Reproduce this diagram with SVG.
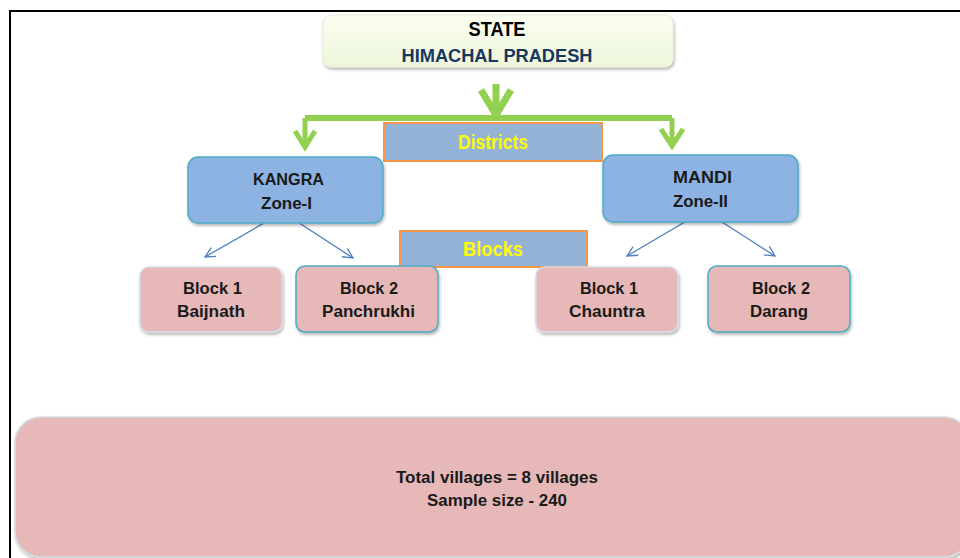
<svg xmlns="http://www.w3.org/2000/svg" width="960" height="558" viewBox="0 0 960 558">
<defs>
<linearGradient id="gState" x1="0" y1="0" x2="0" y2="1">
<stop offset="0" stop-color="#FAFEF0"/><stop offset="1" stop-color="#EEF6DC"/>
</linearGradient>
<filter id="sh" x="-10%" y="-20%" width="120%" height="150%">
<feDropShadow dx="1" dy="2" stdDeviation="1.5" flood-color="#000" flood-opacity="0.3"/>
</filter>
<marker id="ah" markerWidth="14" markerHeight="12" refX="11" refY="6" orient="auto" markerUnits="userSpaceOnUse">
<path d="M1,1 L11,6 L1,11" fill="none" stroke="#4F81BD" stroke-width="1.3"/>
</marker>
<style>
.t{font-family:"Liberation Sans",Arial,sans-serif;font-weight:bold;text-anchor:middle}
.dk{fill:#1a1a1a;font-size:16px}
.zone{fill:#8DB3E2;stroke:#4BACC6;stroke-width:1.5}
.blk{fill:#E6B9B8;stroke:#4BACC6;stroke-width:1.5}
.blk2{fill:#E6B9B8;stroke:#D6DCE4;stroke-width:1.5}
.lbl{fill:#95B3D7;stroke:#F79646;stroke-width:2}
.lt{fill:#FFFF00;font-size:21px}
.g{fill:none;stroke:#92D050;stroke-linecap:butt}
.b{stroke:#4F81BD;stroke-width:1.3;fill:none}
</style>
</defs>
<rect width="960" height="558" fill="#fff"/>
<path d="M10,558 V11 H960" fill="none" stroke="#000" stroke-width="2"/>

<g id="connectors">
<path class="g" d="M496,84 V118" stroke-width="7"/>
<path class="g" d="M481,90 L496,115 L511,90" stroke-width="7" stroke-linejoin="miter"/>
<path class="g" d="M305,118 H672" stroke-width="6"/>
<path class="g" d="M305,118 V147" stroke-width="5"/>
<path class="g" d="M295,131 L305,147 L315,131" stroke-width="5"/>
<path class="g" d="M672,118 V146" stroke-width="5"/>
<path class="g" d="M661,129 L672,146 L683,129" stroke-width="5"/>
<line class="b" x1="278" y1="215" x2="205" y2="257" marker-end="url(#ah)"/>
<line class="b" x1="287" y1="215" x2="353" y2="258" marker-end="url(#ah)"/>
<line class="b" x1="700" y1="213" x2="627" y2="256" marker-end="url(#ah)"/>
<line class="b" x1="708" y1="213" x2="775" y2="256" marker-end="url(#ah)"/>
</g>

<g id="state">
<rect x="323" y="15" width="350" height="52" rx="8" fill="url(#gState)" stroke="#E4ECD4" stroke-width="1" filter="url(#sh)"/>
<text class="t" x="497" y="36" font-size="20" fill="#000" textLength="57" lengthAdjust="spacingAndGlyphs">STATE</text>
<text class="t" x="497" y="62" font-size="19" fill="#17375E" textLength="191" lengthAdjust="spacingAndGlyphs">HIMACHAL PRADESH</text>
</g>

<g id="districts">
<rect class="lbl" x="384" y="123" width="218" height="38"/>
<text class="t lt" x="493" y="149" textLength="70" lengthAdjust="spacingAndGlyphs">Districts</text>
</g>

<g id="kangra">
<rect class="zone" x="188" y="157" width="195" height="66" rx="10" filter="url(#sh)"/>
<text class="t dk" x="288.5" y="185" textLength="71" lengthAdjust="spacingAndGlyphs">KANGRA</text>
<text class="t dk" x="286.5" y="209" textLength="51" lengthAdjust="spacingAndGlyphs">Zone-I</text>
</g>

<g id="mandi">
<rect class="zone" x="603" y="155" width="195" height="67" rx="10" filter="url(#sh)"/>
<text class="t dk" x="702.5" y="183" textLength="59" lengthAdjust="spacingAndGlyphs">MANDI</text>
<text class="t dk" x="700.5" y="207" textLength="55" lengthAdjust="spacingAndGlyphs">Zone-II</text>
</g>

<g id="blocks">
<rect class="lbl" x="400" y="231" width="187" height="36"/>
<text class="t lt" x="493" y="256" textLength="60" lengthAdjust="spacingAndGlyphs">Blocks</text>
</g>

<g id="baijnath">
<rect class="blk2" x="140" y="267" width="142" height="65" rx="9" filter="url(#sh)"/>
<text class="t dk" x="212.5" y="294" textLength="59" lengthAdjust="spacingAndGlyphs">Block 1</text>
<text class="t dk" x="211" y="317" textLength="68" lengthAdjust="spacingAndGlyphs">Baijnath</text>
</g>

<g id="panchrukhi">
<rect class="blk" x="296" y="266" width="142" height="66" rx="9" filter="url(#sh)"/>
<text class="t dk" x="369" y="294" textLength="58" lengthAdjust="spacingAndGlyphs">Block 2</text>
<text class="t dk" x="368.5" y="317" textLength="93" lengthAdjust="spacingAndGlyphs">Panchrukhi</text>
</g>

<g id="chauntra">
<rect class="blk2" x="536" y="267" width="142" height="65" rx="9" filter="url(#sh)"/>
<text class="t dk" x="609" y="294" textLength="58" lengthAdjust="spacingAndGlyphs">Block 1</text>
<text class="t dk" x="607" y="317" textLength="76" lengthAdjust="spacingAndGlyphs">Chauntra</text>
</g>

<g id="darang">
<rect class="blk" x="708" y="266" width="142" height="66" rx="9" filter="url(#sh)"/>
<text class="t dk" x="781" y="294" textLength="58" lengthAdjust="spacingAndGlyphs">Block 2</text>
<text class="t dk" x="779" y="317" textLength="58" lengthAdjust="spacingAndGlyphs">Darang</text>
</g>

<g id="summary">
<rect x="15" y="417" width="955" height="140" rx="26" fill="#E6B8B7" stroke="#D6DCE4" stroke-width="1.5" filter="url(#sh)"/>
<text class="t dk" x="497" y="483" textLength="202" lengthAdjust="spacingAndGlyphs">Total villages = 8 villages</text>
<text class="t dk" x="497" y="506" textLength="140" lengthAdjust="spacingAndGlyphs">Sample size - 240</text>
</g>
</svg>
